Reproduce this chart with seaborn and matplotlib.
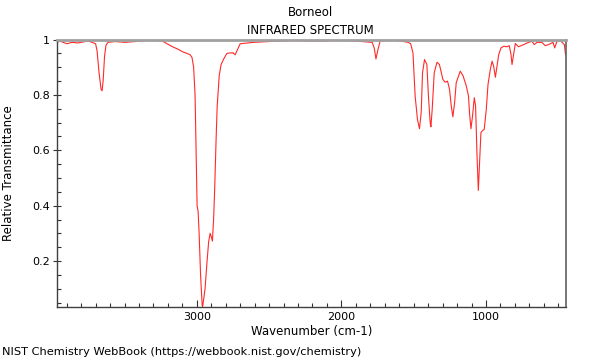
import matplotlib
matplotlib.use("Agg")
import matplotlib.pyplot as plt
from matplotlib.ticker import MultipleLocator
import seaborn as sns
import pandas as pd

compound = "Borneol"
title2 = "INFRARED SPECTRUM"
xlabel = "Wavenumber (cm-1)"
ylabel = "Relative Transmittance"
footer = "NIST Chemistry WebBook (https://webbook.nist.gov/chemistry)"

wavenumber = [3967, 3946, 3925, 3897, 3863, 3821, 3780, 3752, 3724, 3700,
              3690, 3676, 3662, 3655, 3648, 3638, 3628, 3614, 3565, 3496,
              3427, 3358, 3289, 3240, 3206, 3171, 3129, 3095, 3067, 3046,
              3033, 3022, 3012, 3005, 2998, 2991, 2984, 2974, 2963, 2960,
              2953, 2943, 2929, 2918, 2908, 2901, 2892, 2884, 2877, 2866,
              2859, 2845, 2832, 2814, 2792, 2769, 2749, 2735, 2722, 2700,
              2610, 2493, 2389, 2285, 2147, 2008, 1904, 1835, 1787, 1773,
              1761, 1749, 1732, 1662, 1593, 1538, 1521, 1505, 1490, 1474,
              1460, 1448, 1439, 1425, 1409, 1398, 1386, 1381, 1372, 1358,
              1339, 1322, 1298, 1282, 1266, 1252, 1240, 1229, 1217, 1206,
              1190, 1178, 1159, 1136, 1121, 1114, 1104, 1093, 1081, 1072,
              1062, 1053, 1044, 1035, 1026, 1012, 998, 986, 970, 958,
              947, 935, 924, 912, 896, 878, 855, 839, 827, 820,
              809, 797, 775, 740, 705, 682, 666, 647, 613, 590,
              567, 536, 525, 509, 486, 474, 458, 450]
transmittance = [0.990, 0.995, 0.990, 0.985, 0.990, 0.988, 0.992, 0.995, 0.990, 0.985,
                 0.960, 0.880, 0.820, 0.815, 0.850, 0.940, 0.980, 0.990, 0.993, 0.990,
                 0.993, 0.997, 0.997, 0.995, 0.985, 0.975, 0.965, 0.955, 0.950, 0.945,
                 0.935, 0.900, 0.800, 0.600, 0.400, 0.380, 0.300, 0.150, 0.040, 0.035,
                 0.060, 0.100, 0.200, 0.270, 0.300, 0.290, 0.272, 0.350, 0.450, 0.650,
                 0.760, 0.870, 0.910, 0.930, 0.950, 0.952, 0.952, 0.945, 0.960, 0.985,
                 0.990, 0.993, 0.996, 0.996, 0.995, 0.997, 0.995, 0.992, 0.990, 0.970,
                 0.930, 0.960, 0.995, 0.998, 0.995, 0.990, 0.985, 0.952, 0.796, 0.712,
                 0.678, 0.737, 0.880, 0.928, 0.910, 0.796, 0.700, 0.685, 0.748, 0.880,
                 0.918, 0.910, 0.856, 0.846, 0.850, 0.820, 0.760, 0.721, 0.772, 0.844,
                 0.868, 0.886, 0.870, 0.832, 0.796, 0.736, 0.678, 0.724, 0.790, 0.760,
                 0.580, 0.455, 0.557, 0.664, 0.670, 0.676, 0.748, 0.838, 0.892, 0.922,
                 0.904, 0.864, 0.904, 0.946, 0.970, 0.976, 0.974, 0.978, 0.946, 0.910,
                 0.946, 0.986, 0.974, 0.982, 0.990, 0.994, 0.982, 0.990, 0.990, 0.978,
                 0.982, 0.990, 0.970, 0.994, 0.997, 0.990, 0.982, 0.946]

df = pd.DataFrame({"w": wavenumber, "t": transmittance})

sns.set_style("ticks")
plt.rcParams["font.family"] = ["DejaVu Sans"]
plt.rcParams["text.color"] = "black"
plt.rcParams["axes.labelcolor"] = "black"
plt.rcParams["xtick.labelcolor"] = "black"
plt.rcParams["ytick.labelcolor"] = "black"

fig = plt.figure(figsize=(6, 3.6), dpi=100)
ax = fig.add_axes([0.0945, 0.148, 0.8485, 0.742])

sns.lineplot(data=df, x="w", y="t", sort=False, estimator=None,
             color="#ff2a2a", linewidth=0.8, ax=ax)

ax.set_xlim(3969, 448)
ax.set_ylim(0.035, 1.0)
ax.xaxis.set_major_locator(MultipleLocator(1000))
ax.xaxis.set_minor_locator(MultipleLocator(100))
ax.yaxis.set_major_locator(MultipleLocator(0.2))
ax.yaxis.set_minor_locator(MultipleLocator(0.05))
ax.set_yticks([0.2, 0.4, 0.6, 0.8, 1.0])
ax.set_yticklabels(["0.2", "0.4", "0.6", "0.8", "1"])

ax.tick_params(axis="x", which="major", direction="in", length=5, width=0.8,
               labelsize=8, pad=4, color="#333333", labelcolor="black")
ax.tick_params(axis="x", which="minor", direction="in", length=3, width=0.8,
               color="#333333")
ax.tick_params(axis="y", which="major", direction="inout", length=6, width=0.8,
               labelsize=8, pad=2, color="#333333", labelcolor="black")
ax.tick_params(axis="y", which="minor", direction="in", length=3, width=0.8,
               color="#333333")

for side in ["left", "bottom"]:
    ax.spines[side].set_color("#404040")
    ax.spines[side].set_linewidth(1.0)
ax.spines["top"].set_visible(True)
ax.spines["right"].set_visible(True)
ax.spines["top"].set_color("#a0a0a0")
ax.spines["top"].set_linewidth(2.0)
ax.spines["right"].set_color("#606060")
ax.spines["right"].set_linewidth(1.2)

ax.set_xlabel(xlabel, fontsize=8.5, labelpad=2, color="black")
ax.set_ylabel(ylabel, fontsize=8.5, labelpad=12, color="black")

fig.text(0.518, 0.965, compound, ha="center", va="center", fontsize=8.5, color="black")
fig.text(0.518, 0.916, title2, ha="center", va="center", fontsize=8.5, color="black")
fig.text(0.004, 0.022, footer, ha="left", va="center", fontsize=8.2, color="black")

fig.savefig("out.png", dpi=100)
